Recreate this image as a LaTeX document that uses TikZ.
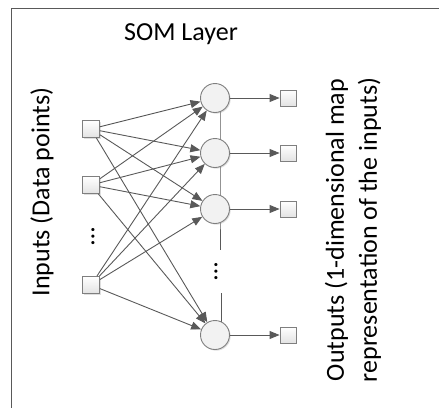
\documentclass[tikz,border=0pt]{standalone}
\usepackage{fontspec}
\setmainfont{Carlito}
\usetikzlibrary{arrows.meta, positioning, shadows, backgrounds}
\usepackage{xcolor}
\definecolor{edgegray}{HTML}{595959}
\definecolor{boxgray}{HTML}{7F7F7F}
\definecolor{fillgray}{HTML}{F2F2F2}

\begin{document}
\begin{tikzpicture}[x=1pt, y=-1pt,
    inbox/.style={draw=boxgray, line width=0.9pt, top color=white, bottom color=gray!22,
      minimum size=17pt, inner sep=0pt,
      drop shadow={shadow xshift=1.2pt, shadow yshift=-1.2pt, opacity=0.25}},
    outbox/.style={inbox, minimum size=16pt},
    somnode/.style={circle, draw=boxgray, line width=0.9pt, fill=fillgray,
      minimum size=29pt, inner sep=0pt,
      drop shadow={shadow xshift=1.2pt, shadow yshift=-1.2pt, opacity=0.25}},
    link/.style={draw=edgegray, line width=0.9pt, -{Triangle[length=10pt, width=8pt]}},
    lbl/.style={font=\fontsize{26}{33}\selectfont, text=black, inner sep=0pt}]
  \useasboundingbox (0,0) rectangle (439,408);
  % frame
  \draw[edgegray, line width=0.9pt] (439,8) -- (11,8) -- (11,408);

  % labels
  \node[lbl] (title) at (181,34) {SOM Layer};
  \node[lbl, rotate=90] (inlabel) at (42,192) {Inputs (Data points)};
  \node[lbl, rotate=90, align=center] (outlabel) at (353,230)
    {Outputs (1-dimensional map\\representation of the inputs)};

  % input layer
  \node[inbox] (in1) at (91,129) {};
  \node[inbox] (in2) at (91,185) {};
  \node[inbox] (in3) at (91,285) {};
  \node[lbl, rotate=90] (indots) at (93,237) {…};

  % SOM layer
  \node[somnode] (som1) at (215,98) {};
  \node[somnode] (som2) at (215,153) {};
  \node[somnode] (som3) at (215,209) {};
  \node[somnode] (som4) at (215,335) {};
  \node[lbl, rotate=90] (somdots) at (216,272) {…};

  % outputs
  \node[outbox] (out1) at (288,98) {};
  \node[outbox] (out2) at (288,153) {};
  \node[outbox] (out3) at (288,209) {};
  \node[outbox] (out4) at (288,335) {};

  \begin{scope}[on background layer]
    \draw[edgegray, line width=0.9pt]
      ([xshift=5pt]som1.center) -- ([xshift=5pt]som3.center) -- ++(0,41);
    \draw[edgegray, line width=0.9pt]
      ([xshift=6pt]som4.center) -- ++(0,-42);
  \end{scope}

  % weights
  \foreach \i in {1,2,3}
    \foreach \j in {1,2,3,4}
      \draw[link] (in\i) -- (som\j);
  \foreach \j in {1,2,3,4}
    \draw[link] (som\j) -- (out\j);
\end{tikzpicture}
\end{document}
